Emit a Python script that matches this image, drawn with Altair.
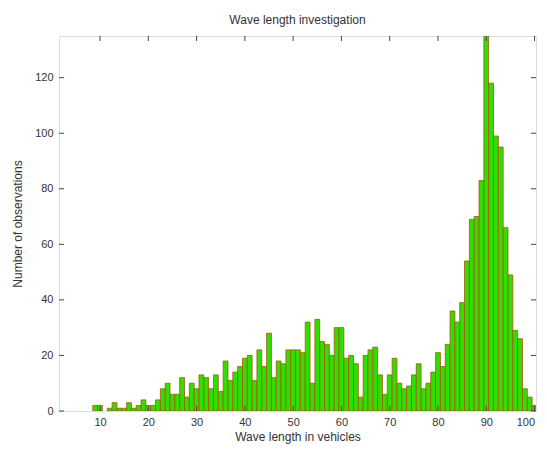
import altair as alt
import pandas as pd

# Histogram data (bin centres, width 1)
bin_centers = list(range(9, 101))
counts = [2, 2, 0, 1, 3, 1, 1, 3, 1, 2,
          4, 2, 2, 4, 8, 10, 6, 6, 12, 5,
          10, 8, 13, 12, 8, 13, 7, 18, 11, 14,
          16, 19, 20, 11, 22, 16, 28, 12, 18, 17,
          22, 22, 22, 21, 32, 10, 33, 25, 24, 20,
          30, 30, 19, 20, 17, 5, 20, 22, 23, 13,
          6, 13, 19, 10, 8, 9, 13, 17, 8, 10,
          14, 21, 16, 24, 36, 32, 39, 54, 69, 70,
          83, 150, 118, 99, 95, 66, 49, 29, 26, 8,
          5, 2]
x_ticks = [10, 20, 30, 40, 50, 60, 70, 80, 90, 100]
y_ticks = [0, 20, 40, 60, 80, 100, 120]

W, H = 477, 375
FONT = "Liberation Sans"
TXT = "#333333"

df = pd.DataFrame({"c": bin_centers, "n": counts})
df = df[df["n"] > 0]
df["lo"] = df["c"] - 0.5
df["hi"] = df["c"] + 0.5

xscale = alt.Scale(domain=[1.5, 100.3], nice=False, zero=False)
yscale = alt.Scale(domain=[0, 135], nice=False)

bars = alt.Chart(df).mark_rect(
    color="#2ee000", stroke="#b05010", strokeWidth=0.8, clip=True
).encode(
    x=alt.X("lo:Q", scale=xscale,
            axis=alt.Axis(values=x_ticks, title="Wave length in vehicles",
                          domain=False, ticks=False, grid=False,
                          labelAlign=alt.expr("datum.value == 100 ? 'right' : 'center'"),
                          labelPadding=5, labelFontSize=11, labelFont=FONT,
                          labelColor=TXT, titleFont=FONT, titleFontSize=12,
                          titleFontWeight="normal", titleColor=TXT, titlePadding=4)),
    x2="hi:Q",
    y=alt.Y("n:Q", scale=yscale,
            axis=alt.Axis(values=y_ticks, title="Number of observations",
                          domain=False, ticks=False, grid=False,
                          labelPadding=6, labelFontSize=11, labelFont=FONT,
                          labelColor=TXT, titleFont=FONT, titleFontSize=12,
                          titleFontWeight="normal", titleColor=TXT, titlePadding=10)),
    y2=alt.datum(0),
)

xt = pd.DataFrame({"t": x_ticks})
yt = pd.DataFrame({"t": y_ticks})

xt_bottom = alt.Chart(xt).mark_rule(color="#444444", strokeWidth=1).encode(
    x=alt.X("t:Q", scale=xscale), y=alt.value(H), y2=alt.value(H - 5))
xt_top = alt.Chart(xt).mark_rule(color="#444444", strokeWidth=1).encode(
    x=alt.X("t:Q", scale=xscale), y=alt.value(0), y2=alt.value(5))
yt_left = alt.Chart(yt).mark_rule(color="#444444", strokeWidth=1).encode(
    y=alt.Y("t:Q", scale=yscale), x=alt.value(0), x2=alt.value(5))
yt_right = alt.Chart(yt).mark_rule(color="#444444", strokeWidth=1).encode(
    y=alt.Y("t:Q", scale=yscale), x=alt.value(W), x2=alt.value(W - 5))

chart = alt.layer(bars, xt_bottom, xt_top, yt_left, yt_right).properties(
    width=W, height=H,
    title=alt.TitleParams("Wave length investigation", font=FONT, fontSize=12,
                          fontWeight="normal", color=TXT, offset=9),
    autosize=alt.AutoSizeParams(type="none"),
    padding={"left": 51, "top": 28, "right": 3, "bottom": 36},
).configure_view(stroke="#808080", strokeWidth=1.2).configure(background="white")

chart.save("out.html", embed_options={"renderer": "svg", "actions": False})
